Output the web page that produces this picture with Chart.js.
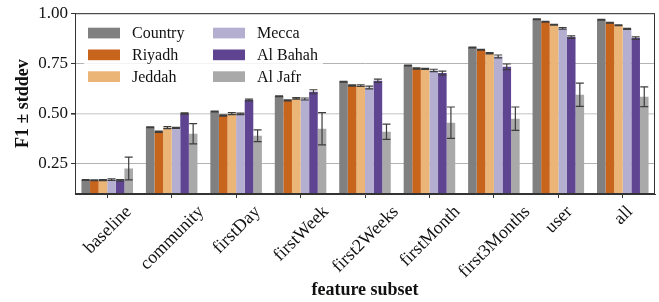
<!DOCTYPE html>
<html>
<head>
<meta charset="utf-8">
<script src="https://cdn.jsdelivr.net/npm/chart.js@4"></script>
<style>
  html, body { margin: 0; padding: 0; background: #fff; }
  #wrap { width: 659px; height: 302px; }
</style>
</head>
<body>
<div id="wrap"><canvas id="f1Chart" width="659" height="302"></canvas></div>
<script>
const categories = ['baseline', 'community', 'firstDay', 'firstWeek', 'first2Weeks', 'firstMonth', 'first3Months', 'user', 'all'];
const regions = ['Country', 'Riyadh', 'Jeddah', 'Mecca', 'Al Bahah', 'Al Jafr'];
const regionColors = ['#808080', '#c8651d', '#ebb577', '#b4aed1', '#5f4591', '#a9a9a9'];

const country = [0.170, 0.432, 0.511, 0.586, 0.659, 0.740, 0.829, 0.970, 0.968];
const riyadh  = [0.168, 0.410, 0.491, 0.566, 0.640, 0.725, 0.818, 0.957, 0.953];
const jeddah  = [0.169, 0.430, 0.500, 0.576, 0.639, 0.723, 0.801, 0.943, 0.940];
const mecca   = [0.172, 0.429, 0.499, 0.573, 0.630, 0.715, 0.785, 0.924, 0.922];
const alBahah = [0.168, 0.501, 0.568, 0.609, 0.664, 0.702, 0.733, 0.881, 0.876];
const alJafr  = [0.227, 0.400, 0.390, 0.425, 0.410, 0.455, 0.475, 0.594, 0.584];

// standard deviations (error bars)
const countryErr = [0.002, 0.002, 0.002, 0.002, 0.002, 0.002, 0.002, 0.002, 0.002];
const riyadhErr  = [0.002, 0.003, 0.003, 0.003, 0.003, 0.003, 0.002, 0.002, 0.002];
const jeddahErr  = [0.003, 0.005, 0.005, 0.004, 0.004, 0.003, 0.003, 0.002, 0.002];
const meccaErr   = [0.004, 0.003, 0.004, 0.005, 0.007, 0.006, 0.007, 0.004, 0.003];
const alBahahErr = [0.004, 0.003, 0.004, 0.010, 0.008, 0.010, 0.014, 0.006, 0.006];
const alJafrErr  = [0.057, 0.050, 0.029, 0.080, 0.038, 0.078, 0.058, 0.058, 0.049];

const yTicks = [0.25, 0.50, 0.75, 1.00];

const series = [country, riyadh, jeddah, mecca, alBahah, alJafr];
const errors = [countryErr, riyadhErr, jeddahErr, meccaErr, alBahahErr, alJafrErr];

const serif = "'Liberation Serif', 'DejaVu Serif', serif";

// error bars, drawn from the bar elements and the y scale
const errorBars = {
  id: 'errorBars',
  afterDatasetsDraw(chart) {
    const ctx = chart.ctx;
    const y = chart.scales.y;
    ctx.save();
    ctx.strokeStyle = '#3d3d3d';
    ctx.lineWidth = 1.2;
    chart.data.datasets.forEach((ds, i) => {
      const meta = chart.getDatasetMeta(i);
      meta.data.forEach((bar, j) => {
        const v = ds.data[j], e = ds.errors[j];
        const top = y.getPixelForValue(v + e);
        const bot = y.getPixelForValue(v - e);
        ctx.beginPath();
        ctx.moveTo(bar.x, top); ctx.lineTo(bar.x, bot);
        ctx.moveTo(bar.x - 4, top); ctx.lineTo(bar.x + 4, top);
        ctx.moveTo(bar.x - 4, bot); ctx.lineTo(bar.x + 4, bot);
        ctx.stroke();
      });
    });
    ctx.restore();
  }
};

// frame, rotated tick labels and the in-plot legend
const decorations = {
  id: 'decorations',
  afterDraw(chart) {
    const ctx = chart.ctx;
    const a = chart.chartArea;
    const x = chart.scales.x;
    ctx.save();

    ctx.strokeStyle = '#333';
    ctx.lineWidth = 1;
    ctx.strokeRect(a.left + 0.5, a.top + 0.5, a.right - a.left - 1, a.bottom - a.top - 1);

    // x labels, rotated 45 deg and centred under the tick
    const fs = 18;
    ctx.font = fs + 'px ' + serif;
    ctx.fillStyle = '#111';
    ctx.textAlign = 'center';
    ctx.textBaseline = 'middle';
    const h = 0.7 * fs;
    categories.forEach((lab, i) => {
      const px = x.getPixelForTick(i);
      const w = ctx.measureText(lab).width;
      const side = (w + h) * Math.SQRT1_2;
      ctx.save();
      ctx.translate(px, a.bottom + 10 + side / 2);
      ctx.rotate(-Math.PI / 4);
      ctx.fillText(lab, 0, 1);
      ctx.restore();
    });

    // legend
    ctx.fillStyle = 'rgba(255,255,255,0.85)';
    ctx.beginPath();
    ctx.roundRect(84, 19, 239, 70, 3);
    ctx.fill();
    ctx.font = '16px ' + serif;
    ctx.textAlign = 'left';
    ctx.textBaseline = 'middle';
    chart.data.datasets.forEach((ds, i) => {
      const col = Math.floor(i / 3), row = i % 3;
      const sx = col === 0 ? 88 : 213;
      const cy = 33 + row * 21.8;
      ctx.fillStyle = ds.backgroundColor;
      ctx.fillRect(sx, cy - 5.3, 32, 10.7);
      ctx.fillStyle = '#111';
      ctx.fillText(ds.label, sx + 44, cy + 1);
    });
    ctx.restore();
  }
};

new Chart(document.getElementById('f1Chart'), {
  type: 'bar',
  data: {
    labels: categories,
    datasets: regions.map((r, i) => ({
      label: r,
      data: series[i],
      errors: errors[i],
      backgroundColor: regionColors[i],
      borderWidth: 0,
      categoryPercentage: 0.8,
      barPercentage: 1.0
    }))
  },
  options: {
    responsive: false,
    animation: false,
    layout: { padding: { top: 13, right: 4, left: 0, bottom: 0 } },
    plugins: {
      legend: { display: false },
      tooltip: { enabled: false }
    },
    scales: {
      x: {
        offset: true,
        grid: { display: true, offset: false, drawOnChartArea: false, drawTicks: true, tickLength: 4, tickColor: '#333' },
        border: { display: true, color: '#333', width: 1 },
        ticks: { display: false, autoSkip: false },
        title: {
          display: true,
          text: 'feature subset',
          color: '#111',
          font: { family: serif, size: 18, weight: 'bold' },
          padding: { top: 0, bottom: 1 }
        },
        afterFit(scale) { scale.height = 108; }
      },
      y: {
        min: 0.1,
        max: 1.0,
        afterBuildTicks(scale) { scale.ticks = yTicks.map(v => ({ value: v })); },
        grid: {
          color: c => (c.tick && c.tick.value === 0.5) ? '#d6d6d6' : '#b3b3b3',
          lineWidth: c => (c.tick && c.tick.value === 0.5) ? 1.6 : 1,
          tickColor: '#333',
          tickLength: 4
        },
        border: { display: true, color: '#333', width: 1 },
        ticks: {
          color: '#111',
          padding: 3,
          font: { family: serif, size: 17 },
          callback: v => v.toFixed(2)
        },
        title: {
          display: true,
          text: 'F1 ± stddev',
          color: '#111',
          font: { family: serif, size: 18, weight: 'bold' },
          padding: { top: 13, bottom: 0 }
        },
        afterFit(scale) { scale.width = 75; }
      }
    }
  },
  plugins: [errorBars, decorations]
});
</script>
</body>
</html>
